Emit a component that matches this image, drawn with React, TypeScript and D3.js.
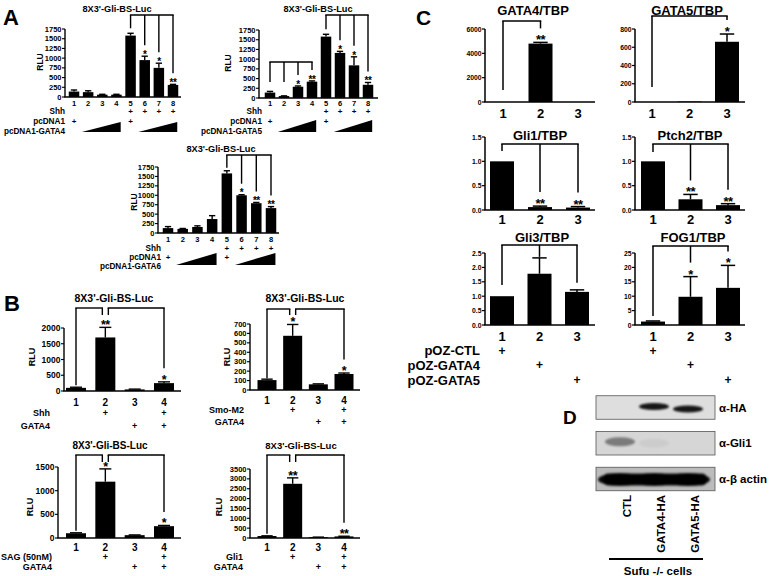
import React from 'react';
import * as d3 from 'd3';

const FONT = '"Liberation Sans", Arial, Helvetica, sans-serif';

// ---------- Panel A data ----------
const aLanes = ['1', '2', '3', '4', '5', '6', '7', '8'];
const aTicks = [0, 250, 500, 750, 1000, 1250, 1500, 1750];
const a1Values = [140, 125, 60, 60, 1580, 950, 750, 310];
const a1Errors = [40, 35, 10, 10, 60, 100, 120, 15];
const a1Stars = ['', '', '', '', '', '*', '*', '**'];
const a2Values = [140, 50, 290, 420, 1580, 1160, 840, 340];
const a2Errors = [30, 5, 20, 20, 60, 40, 220, 60];
const a2Stars = ['', '', '*', '**', '', '*', '*', '**'];
const a3Values = [130, 110, 160, 370, 1580, 1000, 790, 660];
const a3Errors = [40, 10, 30, 90, 70, 15, 20, 40];
const a3Stars = ['', '', '', '', '', '*', '**', '**'];
const aShh = ['', '', '', '', '+', '+', '+', '+'];
const aPcDNA1 = ['+', '', '', '', '+', '', '', ''];

// ---------- Panel B data ----------
const bLanes = ['1', '2', '3', '4'];
const b1Values = [100, 1700, 50, 250];
const b1Errors = [20, 320, 10, 40];
const b1Stars = ['', '**', '', '*'];
const b1Ticks = [0, 500, 1000, 1500, 2000];
const b2Values = [105, 575, 60, 170];
const b2Errors = [10, 120, 5, 10];
const b2Stars = ['', '*', '', '*'];
const b2Ticks = [0, 100, 200, 300, 400, 500, 600, 700];
const b3Values = [100, 1190, 60, 250];
const b3Errors = [10, 270, 5, 15];
const b3Stars = ['', '*', '', '*'];
const b3Ticks = [0, 500, 1000, 1500];
const b4Values = [100, 2750, 40, 80];
const b4Errors = [10, 300, 5, 10];
const b4Stars = ['', '**', '', '**'];
const b4Ticks = [0, 500, 1000, 1500, 2000, 2500, 3000, 3500];
const bActivator = ['', '+', '', '+'];
const bGata4 = ['', '', '+', '+'];

// ---------- Panel C data ----------
const cLanes = ['1', '2', '3'];
const gata4Values = [0, 4800, 0];
const gata4Errors = [0, 100, 0];
const gata4Stars = ['', '**', ''];
const gata4Ticks = [0, 2000, 4000, 6000];
const gata5Values = [0, 5, 660];
const gata5Errors = [0, 0, 85];
const gata5Stars = ['', '', '*'];
const gata5Ticks = [0, 200, 400, 600, 800];
const gli1Values = [1.0, 0.06, 0.05];
const gli1Errors = [0, 0.02, 0.02];
const gli1Stars = ['', '**', '**'];
const ptch2Values = [1.0, 0.22, 0.1];
const ptch2Errors = [0, 0.1, 0.03];
const ptch2Stars = ['', '**', '**'];
const ratioTicks = [0, 0.5, 1.0, 1.5];
const gli3Values = [1.0, 1.78, 1.15];
const gli3Errors = [0, 0.55, 0.07];
const gli3Stars = ['', '', ''];
const gli3Ticks = [0, 0.5, 1.0, 1.5, 2.0, 2.5];
const fog1Values = [1.2, 9.8, 12.9];
const fog1Errors = [0.2, 7, 7.8];
const fog1Stars = ['', '*', '*'];
const fog1Ticks = [0, 5, 10, 15, 20, 25];
const pozCtl = ['+', '', ''];
const pozGata4 = ['', '+', ''];
const pozGata5 = ['', '', '+'];

// ---------- Panel D data ----------
const blotLanes = ['CTL', 'GATA4-HA', 'GATA5-HA'];
const blotRows = ['α-HA', 'α-Gli1', 'α-β actin'];
const haBands = [0, 0.95, 0.95];
const gli1Bands = [0.45, 0.05, 0];
const actinBands = [1, 1, 1];

const fmtInt = d3.format('d');
const fmt1 = d3.format('.1f');

type Leg = { i: number; dx?: number; len?: number; gap?: number };
type Bracket = { top: number; legs: Leg[] };
type Row = {
  label: string;
  y: number;
  marks?: string[];
  tri?: [number, number][];
  triTop?: number;
  triBottom?: number;
};

interface PanelProps {
  title?: string;
  titleX?: number;
  titleY?: number;
  titleSize?: number;
  lanes: string[];
  values: number[];
  errors: number[];
  stars: string[];
  ticks: number[];
  tickFmt: (v: number) => string;
  tickSize: number;
  axisX: number;
  axisEnd: number;
  firstX: number;
  lastX: number;
  yZero: number;
  yTop: number;
  yMax: number;
  barW: number;
  starSize: number;
  laneY: number;
  laneSize: number;
  ylabel?: string;
  ylabelX?: number;
  ylabelY?: number;
  ylabelSize?: number;
  brackets: Bracket[];
  rows?: Row[];
  rowLabelX?: number;
  rowSize?: number;
  markSize?: number;
  lw?: number;
}

function Panel(p: PanelProps) {
  const y = d3.scaleLinear().domain([0, p.yMax]).range([p.yZero, p.yTop]);
  const x = d3.scalePoint<string>().domain(p.lanes).range([p.firstX, p.lastX]);
  const step = x.step();
  const lw = p.lw ?? 1.4;
  const capW = p.barW * 0.6;

  return (
    <g>
      {p.title && (
        <text x={p.titleX} y={p.titleY} fontSize={p.titleSize} textAnchor="middle" dominantBaseline="central">
          {p.title}
        </text>
      )}
      {p.values.map((v, i) => (
        <rect
          key={'b' + i}
          x={(x(p.lanes[i]) as number) - p.barW / 2}
          y={y(v)}
          width={p.barW}
          height={Math.max(0, p.yZero - y(v))}
          fill="#000"
        />
      ))}
      {p.values.map((v, i) =>
        p.errors[i] > 0 ? (
          <g key={'e' + i} stroke="#000" strokeWidth={lw}>
            <line x1={x(p.lanes[i])} x2={x(p.lanes[i])} y1={y(v)} y2={y(v + p.errors[i])} />
            <line
              x1={(x(p.lanes[i]) as number) - capW / 2}
              x2={(x(p.lanes[i]) as number) + capW / 2}
              y1={y(v + p.errors[i])}
              y2={y(v + p.errors[i])}
            />
          </g>
        ) : null
      )}
      {p.stars.map((s, i) =>
        s ? (
          <text
            key={'s' + i}
            x={x(p.lanes[i])}
            y={y(p.values[i] + p.errors[i]) + p.starSize * 0.12 + 0.5}
            fontSize={p.starSize}
            textAnchor="middle"
            letterSpacing={-0.5}
          >
            {s}
          </text>
        ) : null
      )}
      <line x1={p.axisX} x2={p.axisX} y1={p.yZero} y2={y(p.ticks[p.ticks.length - 1])} stroke="#000" strokeWidth={lw} />
      <line x1={p.axisX - 0.7} x2={p.axisEnd} y1={p.yZero} y2={p.yZero} stroke="#000" strokeWidth={lw} />
      {p.ticks.map((t) => (
        <g key={'t' + t}>
          <line x1={p.axisX - 3} x2={p.axisX} y1={y(t)} y2={y(t)} stroke="#000" strokeWidth={lw * 0.8} />
          <text x={p.axisX - 3.5} y={y(t)} fontSize={p.tickSize} textAnchor="end" dominantBaseline="central">
            {p.tickFmt(t)}
          </text>
        </g>
      ))}
      {p.ylabel && (
        <text
          x={p.ylabelX}
          y={p.ylabelY}
          fontSize={p.ylabelSize}
          textAnchor="middle"
          dominantBaseline="central"
          transform={`rotate(-90 ${p.ylabelX} ${p.ylabelY})`}
        >
          {p.ylabel}
        </text>
      )}
      {p.lanes.map((l) => (
        <text key={'l' + l} x={x(l)} y={p.laneY} fontSize={p.laneSize} textAnchor="middle" dominantBaseline="central">
          {l}
        </text>
      ))}
      {p.brackets.map((b, bi) => {
        const legs = b.legs.map((lg) => {
          const lx = (x(p.lanes[lg.i]) as number) + (lg.dx ?? 0);
          let end: number;
          if (lg.len !== undefined) end = b.top + lg.len;
          else {
            const cap = y(p.values[lg.i] + p.errors[lg.i]);
            end = cap - (p.stars[lg.i] ? p.starSize + 1 : lg.gap ?? 3);
          }
          return { lx, end };
        });
        const xs = legs.map((l) => l.lx);
        return (
          <g key={'br' + bi} stroke="#000" strokeWidth={lw} fill="none">
            <line x1={d3.min(xs)! - lw / 2} x2={d3.max(xs)! + lw / 2} y1={b.top} y2={b.top} />
            {legs.map((l, li) => (
              <line key={li} x1={l.lx} x2={l.lx} y1={b.top} y2={l.end} />
            ))}
          </g>
        );
      })}
      {p.rows?.map((r, ri) => (
        <g key={'r' + ri}>
          {r.label && (
            <text x={p.rowLabelX} y={r.y} fontSize={p.rowSize} textAnchor="end" dominantBaseline="central">
              {r.label}
            </text>
          )}
          {r.marks?.map((m, mi) =>
            m ? (
              <text
                key={mi}
                x={x(p.lanes[mi])}
                y={r.y}
                fontSize={p.markSize}
                textAnchor="middle"
                dominantBaseline="central"
              >
                {m}
              </text>
            ) : null
          )}
          {r.tri?.map(([s, e], ti) => {
            const xs = (x(p.lanes[s]) as number) - 0.45 * step;
            const xe = (x(p.lanes[e]) as number) + 0.3 * step;
            return (
              <path key={ti} d={`M${xs},${r.triBottom} L${xe},${r.triBottom} L${xe},${r.triTop} Z`} fill="#000" />
            );
          })}
        </g>
      ))}
    </g>
  );
}

function Blot() {
  const x = d3.scalePoint<string>().domain(blotLanes).range([620, 688]);
  const ry = d3.scalePoint<string>().domain(blotRows).range([407.5, 479]);
  const boxX0 = 596;
  const boxX1 = 715;
  const boxH = 23.5;
  const bandSets = [
    { data: haBands, rx: 15, ry: 3.6, dy: [0, -1, 1.5] },
    { data: gli1Bands, rx: 15, ry: 4.5, dy: [-1.5, 0, 0] },
    { data: actinBands, rx: 22, ry: 6.5, dy: [0.5, 0.5, 0.5] },
  ];
  const boxFills = ['#dedede', '#d6d6d6', '#bcbcbc'];
  return (
    <g>
      <defs>
        <filter id="bandBlur" x="-30%" y="-80%" width="160%" height="260%">
          <feGaussianBlur stdDeviation="1.3" />
        </filter>
      </defs>
      {blotRows.map((r, ri) => {
        const cy = ry(r) as number;
        const set = bandSets[ri];
        return (
          <g key={r}>
            <rect x={boxX0} y={cy - boxH / 2} width={boxX1 - boxX0} height={boxH} fill={boxFills[ri]} stroke="#555" strokeWidth={0.8} />
            <g filter="url(#bandBlur)">
              {set.data.map((v, li) =>
                v > 0 ? (
                  <ellipse
                    key={li}
                    cx={x(blotLanes[li])}
                    cy={cy + set.dy[li]}
                    rx={set.rx}
                    ry={set.ry}
                    fill="#000"
                    opacity={v * 0.95}
                  />
                ) : null
              )}
              {ri === 2 && (
                <rect x={603} y={cy - 5.5} width={104} height={12} rx={5} fill="#000" opacity={0.95} />
              )}
            </g>
            <text x={719} y={cy} fontSize={11.5} dominantBaseline="central">
              {r}
            </text>
          </g>
        );
      })}
      {blotLanes.map((l) => {
        const lx = (x(l) as number) + 7;
        return (
          <text key={l} x={lx} y={495} fontSize={11.5} textAnchor="end" dominantBaseline="central" transform={`rotate(-90 ${lx} 495)`}>
            {l}
          </text>
        );
      })}
      <line x1={609} x2={703} y1={559} y2={559} stroke="#000" strokeWidth={2} />
      <text x={658} y={571} fontSize={11.5} textAnchor="middle" dominantBaseline="central">
        Sufu -/- cells
      </text>
      <text x={563} y={424} fontSize={19}>D</text>
    </g>
  );
}

export default function App() {
  const aCommon = {
    lanes: aLanes,
    ticks: aTicks,
    tickFmt: fmtInt,
    tickSize: 7.5,
    yMax: 1750,
    barW: 10.5,
    starSize: 10,
    laneSize: 7.5,
    ylabel: 'RLU',
    ylabelSize: 8.5,
    rowSize: 8.2,
    markSize: 8,
    titleSize: 9.2,
    title: "8X3'-Gli-BS-Luc",
  };
  const bCommon = {
    lanes: bLanes,
    tickFmt: fmtInt,
    barW: 20,
    starSize: 12.5,
    laneSize: 10,
    ylabel: 'RLU',
    ylabelSize: 9,
    rowSize: 9,
    markSize: 9,
    title: "8X3'-Gli-BS-Luc",
  };
  const cCommon = {
    lanes: cLanes,
    barW: 24,
    starSize: 13,
    laneSize: 13,
    tickSize: 6.8,
    titleSize: 13,
    rowSize: 13,
    markSize: 12,
    lw: 1.5,
  };

  return (
    <svg
      width={771}
      height={576}
      style={{ position: 'absolute', left: 0, top: 0, background: '#fff' }}
      fontFamily={FONT}
      fontWeight={700}
    >
      <rect width={771} height={576} fill="#fff" />
      <text x={3} y={25} fontSize={22}>A</text>
      <text x={4} y={311} fontSize={22}>B</text>
      <text x={416} y={25} fontSize={21}>C</text>

      <Panel
        {...aCommon}
        titleX={117}
        titleY={9}
        values={a1Values}
        errors={a1Errors}
        stars={a1Stars}
        axisX={65}
        axisEnd={181}
        firstX={74}
        lastX={173}
        yZero={97}
        yTop={29}
        laneY={103}
        ylabelX={40}
        ylabelY={62}
        brackets={[{ top: 15, legs: [{ i: 4, gap: 5 }, { i: 5 }, { i: 6 }, { i: 7 }] }]}
        rowLabelX={65}
        rows={[
          { label: 'Shh', y: 111, marks: aShh },
          { label: 'pcDNA1', y: 121.5, marks: aPcDNA1 },
          { label: 'pcDNA1-GATA4', y: 131, tri: [[1, 3], [5, 7]], triTop: 122, triBottom: 132 },
        ]}
      />
      <Panel
        {...aCommon}
        titleX={318}
        titleY={9}
        values={a2Values}
        errors={a2Errors}
        stars={a2Stars}
        axisX={259}
        axisEnd={378}
        firstX={270}
        lastX={368}
        yZero={98}
        yTop={30}
        laneY={103.5}
        ylabelX={228}
        ylabelY={63}
        brackets={[
          { top: 62, legs: [{ i: 0, len: 20 }, { i: 1, len: 20 }, { i: 2 }, { i: 3 }] },
          { top: 15, legs: [{ i: 4, gap: 5 }, { i: 5 }, { i: 6 }, { i: 7 }] },
        ]}
        rowLabelX={262}
        rows={[
          { label: 'Shh', y: 111, marks: aShh },
          { label: 'pcDNA1', y: 121.5, marks: aPcDNA1 },
          { label: 'pcDNA1-GATA5', y: 131, tri: [[1, 3], [5, 7]], triTop: 120, triBottom: 132 },
        ]}
      />
      <Panel
        {...aCommon}
        titleX={221}
        titleY={149}
        values={a3Values}
        errors={a3Errors}
        stars={a3Stars}
        axisX={158}
        axisEnd={279}
        firstX={168}
        lastX={271}
        yZero={233}
        yTop={167}
        laneY={239}
        ylabelX={134}
        ylabelY={202}
        brackets={[{ top: 155, legs: [{ i: 4, gap: 3 }, { i: 5 }, { i: 6 }, { i: 7 }] }]}
        rowLabelX={161}
        rows={[
          { label: 'Shh', y: 248, marks: aShh },
          { label: 'pcDNA1', y: 257, marks: aPcDNA1 },
          { label: 'pcDNA1-GATA6', y: 266, tri: [[1, 3], [5, 7]], triTop: 253, triBottom: 265 },
        ]}
      />

      <Panel
        {...bCommon}
        titleX={114}
        titleY={298}
        titleSize={10.5}
        values={b1Values}
        errors={b1Errors}
        stars={b1Stars}
        ticks={b1Ticks}
        tickSize={8.5}
        axisX={64}
        axisEnd={181}
        firstX={76}
        lastX={164}
        yZero={391}
        yTop={328}
        yMax={2000}
        laneY={402}
        ylabelX={32}
        ylabelY={357}
        brackets={[
          { top: 308, legs: [{ i: 0, gap: 2 }, { i: 1, dx: -3, len: 7 }] },
          { top: 308, legs: [{ i: 1, dx: 3, len: 7 }, { i: 3 }] },
        ]}
        rowLabelX={50}
        rows={[
          { label: 'Shh', y: 413, marks: bActivator },
          { label: 'GATA4', y: 426, marks: bGata4 },
        ]}
      />
      <Panel
        {...bCommon}
        titleX={305}
        titleY={298}
        titleSize={10.5}
        values={b2Values}
        errors={b2Errors}
        stars={b2Stars}
        ticks={b2Ticks}
        tickSize={7.5}
        barW={19}
        axisX={250}
        axisEnd={360}
        firstX={267}
        lastX={344}
        yZero={390}
        yTop={324}
        yMax={700}
        laneY={400}
        ylabelX={227}
        ylabelY={357}
        brackets={[
          { top: 309, legs: [{ i: 0, gap: 1 }, { i: 1, dx: -3, len: 6 }] },
          { top: 309, legs: [{ i: 1, dx: 3, len: 6 }, { i: 3 }] },
        ]}
        rowLabelX={244}
        rows={[
          { label: 'Smo-M2', y: 410, marks: bActivator },
          { label: 'GATA4', y: 422, marks: bGata4 },
        ]}
      />
      <Panel
        {...bCommon}
        titleX={110}
        titleY={445}
        titleSize={10}
        values={b3Values}
        errors={b3Errors}
        stars={b3Stars}
        ticks={b3Ticks}
        tickSize={8.5}
        axisX={58}
        axisEnd={181}
        firstX={76}
        lastX={164}
        yZero={538}
        yTop={467}
        yMax={1500}
        laneY={547.5}
        ylabelX={30}
        ylabelY={507}
        brackets={[
          { top: 455, legs: [{ i: 0, gap: 2 }, { i: 1, dx: -3, len: 7 }] },
          { top: 455, legs: [{ i: 1, dx: 3, len: 7 }, { i: 3 }] },
        ]}
        rowLabelX={52}
        rows={[
          { label: 'SAG (50nM)', y: 557, marks: bActivator },
          { label: 'GATA4', y: 567, marks: bGata4 },
        ]}
      />
      <Panel
        {...bCommon}
        titleX={301}
        titleY={445}
        titleSize={9.5}
        values={b4Values}
        errors={b4Errors}
        stars={b4Stars}
        ticks={b4Ticks}
        tickSize={7.5}
        barW={19}
        axisX={250}
        axisEnd={360}
        firstX={267}
        lastX={344}
        yZero={538}
        yTop={469}
        yMax={3500}
        laneY={547}
        ylabelX={219}
        ylabelY={507}
        brackets={[
          { top: 455, legs: [{ i: 0, gap: 2 }, { i: 1, dx: -3, len: 7 }] },
          { top: 455, legs: [{ i: 1, dx: 3, len: 7 }, { i: 3 }] },
        ]}
        rowLabelX={243}
        rows={[
          { label: 'Gli1', y: 557, marks: bActivator },
          { label: 'GATA4', y: 567, marks: bGata4 },
        ]}
      />

      <Panel
        {...cCommon}
        title="GATA4/TBP"
        titleX={533}
        titleY={10}
        values={gata4Values}
        errors={gata4Errors}
        stars={gata4Stars}
        ticks={gata4Ticks}
        tickFmt={fmtInt}
        axisX={485}
        axisEnd={595}
        firstX={503}
        lastX={578}
        yZero={102}
        yTop={29}
        yMax={6000}
        laneY={113}
        brackets={[{ top: 21, legs: [{ i: 0, len: 69 }, { i: 1 }] }]}
      />
      <Panel
        {...cCommon}
        title="GATA5/TBP"
        titleX={687}
        titleY={10}
        values={gata5Values}
        errors={gata5Errors}
        stars={gata5Stars}
        ticks={gata5Ticks}
        tickFmt={fmtInt}
        axisX={635}
        axisEnd={745}
        firstX={652}
        lastX={727}
        yZero={102}
        yTop={29}
        yMax={800}
        laneY={113}
        brackets={[{ top: 16, legs: [{ i: 0, len: 71 }, { i: 2 }] }]}
      />
      <Panel
        {...cCommon}
        title="Gli1/TBP"
        titleX={540}
        titleY={135}
        values={gli1Values}
        errors={gli1Errors}
        stars={gli1Stars}
        ticks={ratioTicks}
        tickFmt={fmt1}
        axisX={485}
        axisEnd={595}
        firstX={502}
        lastX={578}
        yZero={210}
        yTop={137}
        yMax={1.5}
        laneY={219}
        brackets={[{ top: 144, legs: [{ i: 0, len: 7 }, { i: 1 }, { i: 2 }] }]}
      />
      <Panel
        {...cCommon}
        title="Ptch2/TBP"
        titleX={690}
        titleY={135}
        values={ptch2Values}
        errors={ptch2Errors}
        stars={ptch2Stars}
        ticks={ratioTicks}
        tickFmt={fmt1}
        axisX={635}
        axisEnd={745}
        firstX={653}
        lastX={728}
        yZero={210}
        yTop={137}
        yMax={1.5}
        laneY={219}
        brackets={[{ top: 144, legs: [{ i: 0, len: 8 }, { i: 1 }, { i: 2 }] }]}
      />
      <Panel
        {...cCommon}
        title="Gli3/TBP"
        titleX={542}
        titleY={237}
        values={gli3Values}
        errors={gli3Errors}
        stars={gli3Stars}
        ticks={gli3Ticks}
        tickFmt={fmt1}
        axisX={485}
        axisEnd={595}
        firstX={502}
        lastX={577}
        yZero={325}
        yTop={253}
        yMax={2.5}
        laneY={336.5}
        brackets={[{ top: 245, legs: [{ i: 0, len: 40 }, { i: 1, gap: 1 }, { i: 2, gap: 7 }] }]}
        rowLabelX={480}
        rows={[
          { label: 'pOZ-CTL', y: 350.5, marks: pozCtl },
          { label: 'pOZ-GATA4', y: 365, marks: pozGata4 },
          { label: 'pOZ-GATA5', y: 380, marks: pozGata5 },
        ]}
      />
      <Panel
        {...cCommon}
        title="FOG1/TBP"
        titleX={693}
        titleY={237}
        values={fog1Values}
        errors={fog1Errors}
        stars={fog1Stars}
        ticks={fog1Ticks}
        tickFmt={fmtInt}
        axisX={635}
        axisEnd={745}
        firstX={653}
        lastX={728}
        yZero={325}
        yTop={253}
        yMax={25}
        laneY={336.5}
        brackets={[{ top: 246, legs: [{ i: 0, gap: 5 }, { i: 1 }, { i: 2 }] }]}
        rows={[
          { label: '', y: 350.5, marks: pozCtl },
          { label: '', y: 365, marks: pozGata4 },
          { label: '', y: 380, marks: pozGata5 },
        ]}
      />

      <Blot />
    </svg>
  );
}
